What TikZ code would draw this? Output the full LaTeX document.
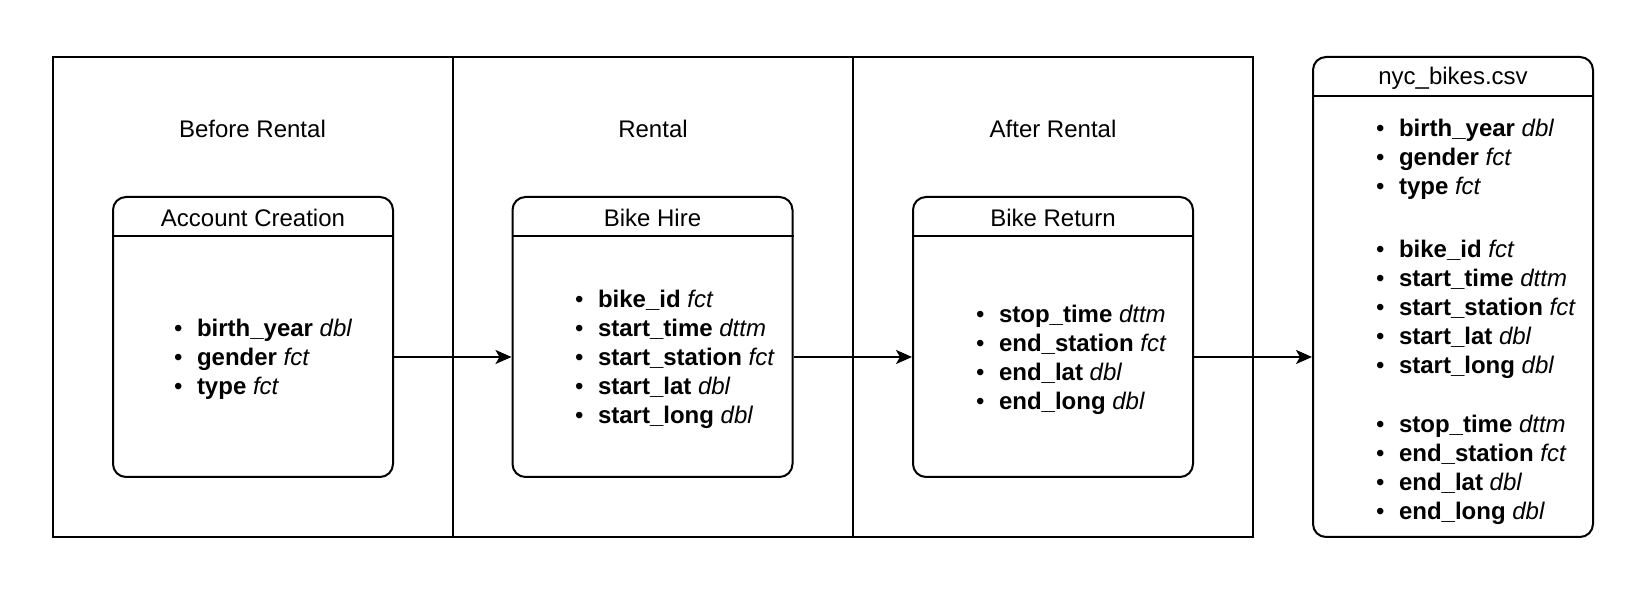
\documentclass[tikz,border=0pt]{standalone}
\usepackage{fontspec}
\setmainfont{Liberation Sans}
\usetikzlibrary{arrows.meta}
\newcommand{\fitem}[2]{\makebox[11.5pt][l]{•}\textbf{#1} \textit{#2}}
\begin{document}
\begin{tikzpicture}[x={(0.5pt,0)}, y={(0,-0.5pt)}, line width=1pt,
  font=\fontsize{12}{14.5}\selectfont,
  column/.style={draw, minimum width=200pt, minimum height=240pt, inner sep=0pt},
  entity/.style={draw, rounded corners=6.5pt, minimum width=140pt, inner sep=0pt},
  fields/.style={anchor=west, align=left, inner sep=0pt},
  arr/.style={-{Stealth[length=8pt,width=7pt,inset=2pt]}}]
\path[use as bounding box] (0,0) rectangle (1649,592);
% columns
\node[column] (col1) at (252.5,297) {};
\node[column] (col2) at (653,297) {};
\node[column] (col3) at (1053,297) {};
\node (t1) at (252.5,129) {Before Rental};
\node (t2) at (653,129) {Rental};
\node (t3) at (1053,129) {After Rental};
% entities
\node[entity, minimum height=140pt] (acct) at (253,337) {};
\node[entity, minimum height=140pt] (hire) at (652.5,337) {};
\node[entity, minimum height=140pt] (ret) at (1053,337) {};
\node[entity, minimum height=240pt] (csv) at (1453,297) {};
\foreach \n in {acct,hire,ret,csv}{
  \draw ([yshift=-20pt]\n.north west) -- ([yshift=-20pt]\n.north east);
}
\node (acctT) at ([yshift=-11pt]acct.north) {Account Creation};
\node (hireT) at ([yshift=-11pt]hire.north) {Bike Hire};
\node (retT) at ([yshift=-11pt]ret.north) {Bike Return};
\node (csvT) at ([yshift=-11pt]csv.north) {nyc\_bikes.csv};
% field lists
\node[fields] (acctF) at (173,359) {\fitem{birth\_year}{dbl}\\\fitem{gender}{fct}\\\fitem{type}{fct}};
\node[fields] (hireF) at (574,359) {\fitem{bike\_id}{fct}\\\fitem{start\_time}{dttm}\\\fitem{start\_station}{fct}\\\fitem{start\_lat}{dbl}\\\fitem{start\_long}{dbl}};
\node[fields] (retF) at (975,359.5) {\fitem{stop\_time}{dttm}\\\fitem{end\_station}{fct}\\\fitem{end\_lat}{dbl}\\\fitem{end\_long}{dbl}};
\node[fields] (csvF1) at (1375,159.5) {\fitem{birth\_year}{dbl}\\\fitem{gender}{fct}\\\fitem{type}{fct}};
\node[fields] (csvF2) at (1375,309.5) {\fitem{bike\_id}{fct}\\\fitem{start\_time}{dttm}\\\fitem{start\_station}{fct}\\\fitem{start\_lat}{dbl}\\\fitem{start\_long}{dbl}};
\node[fields] (csvF3) at (1375,469.5) {\fitem{stop\_time}{dttm}\\\fitem{end\_station}{fct}\\\fitem{end\_lat}{dbl}\\\fitem{end\_long}{dbl}};
% arrows
\draw[arr] ([yshift=-10pt]acct.east) -- ([yshift=-10pt]hire.west);
\draw[arr] ([yshift=-10pt]hire.east) -- ([yshift=-10pt]ret.west);
\draw[arr] ([yshift=-10pt]ret.east) -- ([yshift=-10pt]ret.east -| csv.west);
\end{tikzpicture}
\end{document}
